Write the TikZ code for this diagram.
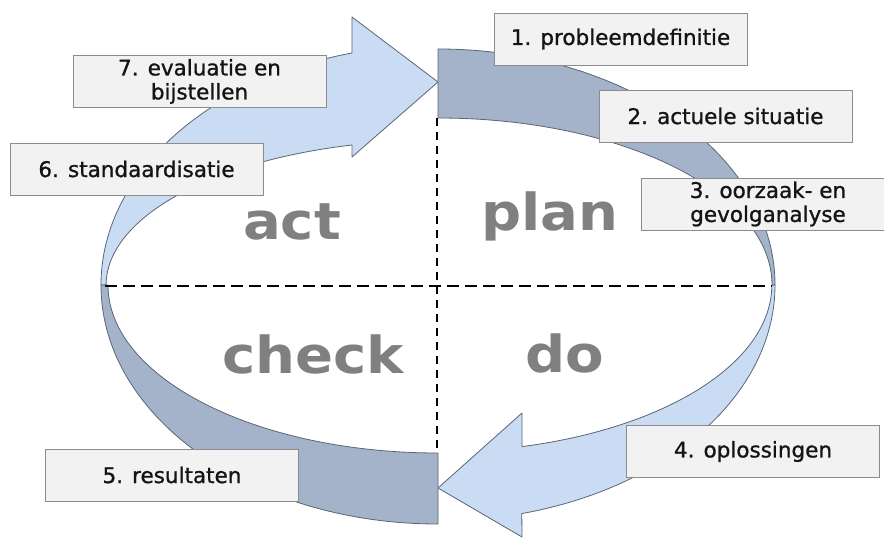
\documentclass[tikz,border=0pt]{standalone}
\usepackage{fontspec}
\usepackage{graphicx}
\setmainfont{DejaVu Sans}
\newfontfamily\boxfont[RawFeature={embolden=1.0}]{DejaVu Sans}
\definecolor{darkarc}{HTML}{A4B3C9}
\definecolor{lightarr}{HTML}{C9DCF3}
\definecolor{edgecol}{HTML}{5A6676}
\definecolor{boxfill}{HTML}{F2F2F2}
\definecolor{boxedge}{HTML}{8C8C8C}
\definecolor{wordgrey}{HTML}{808080}
\begin{document}
\begin{tikzpicture}[x=1pt,y=-1pt,
  band/.style={draw=edgecol, line width=0.8pt, line join=round},
  darkband/.style={band, fill=darkarc},
  lightband/.style={band, fill=lightarr},
  infobox/.style={draw=boxedge, fill=boxfill, line width=0.8pt, minimum width=253pt, minimum height=52pt, inner sep=0pt, align=center, font=\boxfont\fontsize{21.5}{24}\selectfont, text=black!92},
  bigword/.style={font=\fontsize{51}{51}\selectfont\bfseries, text=wordgrey, inner sep=0pt, anchor=base},
  hdash/.style={dash pattern=on 12pt off 6pt, line width=1.8pt},
  vdash/.style={dash pattern=on 8pt off 6pt, line width=1.8pt}]
\useasboundingbox (0,0) rectangle (884,546);
\clip (0,0) rectangle (884,546);
\fill[white] (0,0) rectangle (884,546);

% act arrow (light, top-left)
\draw[lightband] (101,285) arc[start angle=180, end angle=255.2, x radius=337, y radius=240]
  -- (352,17) -- (438,82) -- (352,157) -- (352,145)
  arc[start angle=255.1, end angle=180, x radius=331, y radius=145] -- cycle;
% do arrow (light, bottom-right)
\draw[lightband] (775,285) arc[start angle=0, end angle=75.6, x radius=337, y radius=236]
  -- (522,537) -- (438,488) -- (522,413) -- (522,446.6)
  arc[start angle=75.4, end angle=0, x radius=334, y radius=167] -- cycle;
% plan band (dark, top-right)
\draw[darkband] (438,49) arc[start angle=-90, end angle=0, x radius=337, y radius=236]
  -- (772,285) arc[start angle=0, end angle=-90, x radius=334, y radius=167] -- cycle;
% check band (dark, bottom-left)
\draw[darkband] (101,285) arc[start angle=180, end angle=90, x radius=337, y radius=239]
  -- (438,453) arc[start angle=90, end angle=180, x radius=330, y radius=168] -- cycle;

% dashed cross
\coordinate (vtop) at (437,118);
\coordinate (vbot) at (437,453);
\coordinate (hleft) at (105,286);
\coordinate (hright) at (772,286);
\draw[vdash] (vtop) -- (vbot);
\draw[hdash] (hleft) -- (hright);

% big words
\node[bigword] (wact) at (292,239) {\scalebox{1.1}[1]{act}};
\node[bigword] (wplan) at (550,230) {\scalebox{1.1}[1]{plan}};
\node[bigword] (wcheck) at (313,373) {\scalebox{1.1}[1]{check}};
\node[bigword] (wdo) at (565,372) {\scalebox{1.1}[1]{do}};

% labels
\node[infobox] (b1) at (620.5,39) {1. probleemdefinitie};
\node[infobox] (b2) at (725.5,116) {2. actuele situatie};
\node[infobox] (b3) at (768,204) {3. oorzaak- en\\gevolganalyse};
\node[infobox] (b4) at (753,451.5) {4. oplossingen};
\node[infobox] (b5) at (172,475) {5. resultaten};
\node[infobox] (b6) at (136.5,169) {6. standaardisatie};
\node[infobox] (b7) at (199.5,81.5) {7. evaluatie en\\bijstellen};
\end{tikzpicture}
\end{document}
